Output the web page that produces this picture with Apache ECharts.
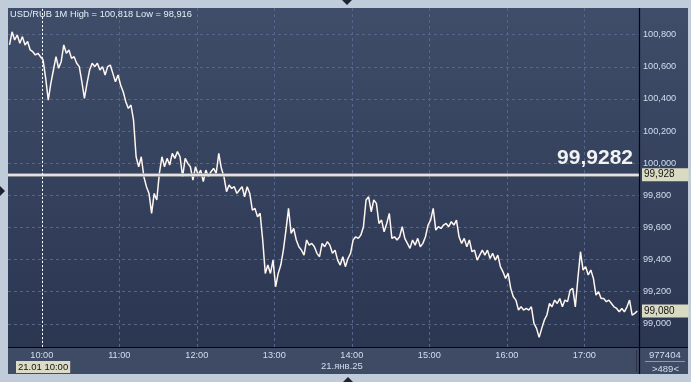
<!DOCTYPE html>
<html><head><meta charset="utf-8">
<script src="https://cdn.jsdelivr.net/npm/echarts@6/dist/echarts.min.js"></script>
<style>html,body{margin:0;padding:0;background:#c0ccda;}#c{width:691px;height:382px;}</style>
</head><body><div id="c"></div>
<script>
// ---- data ----
const startMinute = 575;      // 09:35, first bar
const stepMinutes = 2;
const prices = [
100.736,100.818,100.767,100.798,100.746,100.788,100.736,100.757,100.705,100.694,
100.674,100.684,100.663,100.642,100.528,100.393,100.497,100.580,100.663,100.591,
100.632,100.736,100.684,100.705,100.653,100.663,100.622,100.601,100.507,100.404,
100.497,100.580,100.622,100.601,100.622,100.580,100.601,100.549,100.601,100.611,
100.559,100.507,100.549,100.487,100.445,100.383,100.341,100.362,100.269,100.040,
99.978,100.040,99.916,99.854,99.812,99.688,99.812,99.771,99.937,100.040,
99.978,100.030,99.989,100.061,100.030,100.072,100.040,99.916,100.030,99.999,
99.978,99.895,99.978,99.926,99.957,99.885,99.957,99.916,99.947,99.968,
99.937,100.061,99.968,99.916,99.823,99.864,99.843,99.854,99.812,99.833,
99.854,99.791,99.854,99.812,99.708,99.719,99.667,99.688,99.522,99.314,
99.366,99.314,99.397,99.231,99.314,99.366,99.459,99.584,99.719,99.563,
99.594,99.522,99.480,99.459,99.428,99.522,99.490,99.501,99.480,99.439,
99.418,99.501,99.480,99.511,99.490,99.439,99.459,99.397,99.366,99.418,
99.356,99.407,99.439,99.522,99.542,99.532,99.553,99.605,99.771,99.791,
99.698,99.771,99.750,99.625,99.646,99.573,99.625,99.688,99.532,99.542,
99.522,99.542,99.605,99.532,99.501,99.470,99.522,99.490,99.532,99.480,
99.501,99.542,99.615,99.646,99.719,99.584,99.605,99.594,99.615,99.625,
99.605,99.636,99.615,99.646,99.542,99.501,99.532,99.480,99.522,99.449,
99.459,99.397,99.428,
99.459,99.428,99.459,99.407,99.439,99.397,99.428,99.356,99.324,99.283,
99.314,99.221,99.169,99.148,99.086,99.106,99.086,99.096,99.086,99.106,
99.003,98.972,98.916,98.972,99.023,99.055,99.127,99.106,99.148,99.127,
99.158,99.106,99.148,99.138,99.210,99.221,99.106,99.283,99.449,99.335,
99.356,99.304,99.335,99.283,99.179,99.200,99.158,99.158,99.138,99.148,
99.127,99.106,99.096,99.075,99.096,99.075,99.106,99.148,99.055,99.065,
99.080
];
const yTicks = [99.0, 99.2, 99.4, 99.6, 99.8, 100.0, 100.2, 100.4, 100.6, 100.8];
const xTicks = [600, 660, 720, 780, 840, 900, 960, 1020];
const xTickLabels = ['10:00','11:00','12:00','13:00','14:00','15:00','16:00','17:00'];
const currentPrice = 99.9282;
const currentPriceText = '99,9282';
const lastPrice = 99.080;
const cursorMinute = 600;
const cursorText = '21.01 10:00';
const dateText = '21.янв.25';
const titleText = 'USD/RUB 1M High = 100,818 Low = 98,916';
const infoTop = '977404';
const infoBottom = '>489<';

// ---- chart ----
const FONT = '"Liberation Sans", Arial, sans-serif';
const fmt3 = v => v.toFixed(3).replace('.', ',');
const seriesData = prices.map((p, i) => [startMinute + i * stepMinutes, p]);
const bgGrad = {type:'linear', x:0, y:0, x2:0, y2:1, colorStops:[{offset:0,color:'#3f4d69'},{offset:1,color:'#2b3651'}]};
const tagLabel = (txt) => ({
  show:true, position:'end', formatter: txt, distance: 3,
  backgroundColor:'#d8dac2', color:'#141414', fontSize:10, fontFamily:FONT,
  padding:[2,14,1,2]
});

const chart = echarts.init(document.getElementById('c'), null, {renderer:'canvas'});
chart.setOption({
  animation:false,
  backgroundColor:'#c0ccda',
  grid:{left:8, top:8, right:52, bottom:35, containLabel:false, outerBoundsMode:'none'},
  xAxis:{
    type:'value', min:573.83, max:1062.3,
    axisLine:{show:false}, axisTick:{show:false, customValues:xTicks},
    axisLabel:{customValues:xTicks, formatter:v => xTickLabels[xTicks.indexOf(v)], color:'#d2def0', fontSize:9.2, fontFamily:FONT, margin:4},
    splitLine:{show:true, lineStyle:{color:'#56658a', type:[3,3], width:1}}
  },
  yAxis:{
    type:'value', position:'right', min:98.856, max:100.966,
    axisLine:{show:false}, axisTick:{show:false, customValues:yTicks},
    axisLabel:{customValues:yTicks, formatter:fmt3, color:'#d2def0', fontSize:9.2, fontFamily:FONT, margin:4},
    splitLine:{show:true, lineStyle:{color:'#56658a', type:[3,3], width:1}}
  },
  series:[{
    type:'line', data:seriesData, showSymbol:false, symbol:'none',
    lineStyle:{color:'#fff6f0', width:1.5}, z:3,
    markLine:{
      silent:true, symbol:['none','none'], precision:4,
      data:[
        {yAxis:currentPrice, lineStyle:{color:'#9c9c9c', width:3.5, type:'solid'}, label:{show:false}},
        {yAxis:currentPrice, lineStyle:{color:'#fafafa', width:1.5, type:'solid'},
          label:{show:true, position:'insideEndTop', formatter:currentPriceText, fontSize:21, fontWeight:'bold', color:'#f2f2f2', fontFamily:FONT, distance:[6,6]}},
        {yAxis:currentPrice, lineStyle:{color:'rgba(0,0,0,0)', width:0}, label:tagLabel(fmt3(currentPrice))},
        {yAxis:lastPrice, lineStyle:{color:'rgba(0,0,0,0)', width:0}, label:tagLabel(fmt3(lastPrice))},
        {xAxis:cursorMinute, lineStyle:{color:'#ffffff', width:1, type:[2,2]}, label:{show:false}}
      ]
    }
  }],
  graphic:[
    {type:'rect', z:-10, shape:{x:8, y:8, width:680, height:339}, style:{fill:bgGrad}},
    {type:'rect', z:-10, shape:{x:8, y:347, width:680, height:27}, style:{fill:'#3f4b65'}},
    {type:'line', z:100, shape:{x1:639.5, y1:8, x2:639.5, y2:374}, style:{stroke:'#05070c', lineWidth:1.2}},
    {type:'line', z:100, shape:{x1:8, y1:347.5, x2:688, y2:347.5}, style:{stroke:'#05070c', lineWidth:1.2}},
    {type:'line', z:100, shape:{x1:636.5, y1:350, x2:636.5, y2:372}, style:{stroke:'#2a3246', lineWidth:1}},
    {type:'line', z:100, shape:{x1:645, y1:361.5, x2:685, y2:361.5}, style:{stroke:'#8c98ae', lineWidth:1}},
    {type:'text', z:100, left:10, top:10, style:{text:titleText, fill:'#e6eef8', font:'9.3px '+FONT}},
    {type:'text', z:100, left:16, top:361, style:{text:cursorText, fill:'#111', font:'9.5px '+FONT, backgroundColor:'#dcdcc6', padding:[1,2,1,2]}},
    {type:'text', z:100, left:321, top:361, style:{text:dateText, fill:'#d2def0', font:'9.5px '+FONT}},
    {type:'text', z:100, left:649, top:350, style:{text:infoTop, fill:'#d2def0', font:'9.5px '+FONT}},
    {type:'text', z:100, left:652, top:364, style:{text:infoBottom, fill:'#d2def0', font:'9.5px '+FONT}},
    {type:'polygon', z:100, shape:{points:[[342,0],[352,0],[347,5]]}, style:{fill:'#1c2333'}},
    {type:'polygon', z:100, shape:{points:[[343,382],[353,382],[348,377]]}, style:{fill:'#1c2333'}},
    {type:'polygon', z:100, shape:{points:[[0,186],[0,196],[5,191]]}, style:{fill:'#1c2333'}}
  ]
});
</script></body></html>
